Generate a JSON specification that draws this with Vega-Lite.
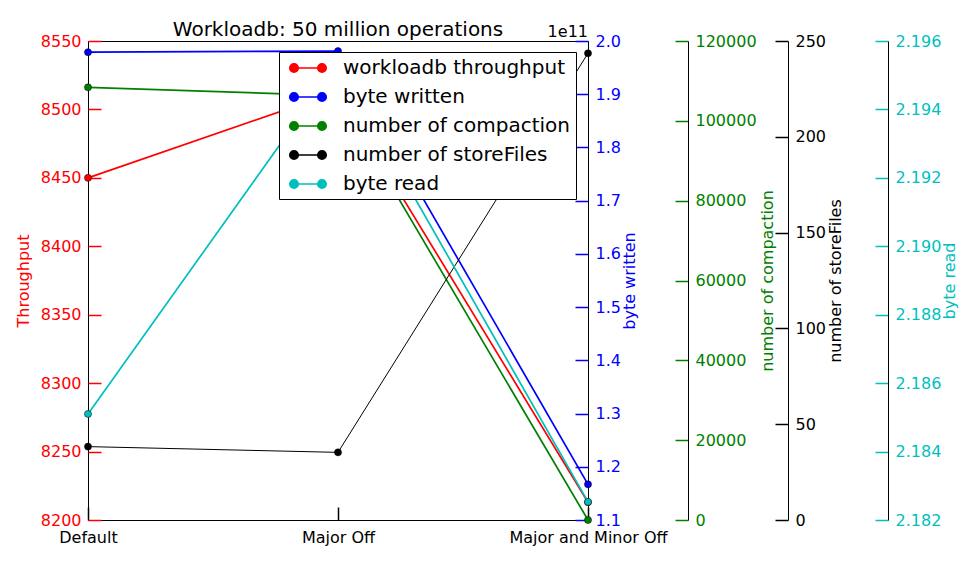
{
  "$schema": "https://vega.github.io/schema/vega-lite/v6.json",
  "width": 500,
  "height": 479,
  "autosize": {"type": "none"},
  "padding": {"left": 88, "top": 41, "right": 392, "bottom": 42},
  "background": "white",
  "config": {
    "font": "DejaVu Sans",
    "view": {"stroke": "black", "strokeWidth": 1},
    "axis": {"labelFont": "DejaVu Sans", "titleFont": "DejaVu Sans", "labelFontSize": 16, "titleFontSize": 16, "titleFontWeight": "normal", "grid": false, "tickSize": -13, "tickWidth": 1.5, "labelPadding": 20}
  },
  "title": {"text": "Workloadb: 50 million operations", "fontSize": 20, "fontWeight": "normal", "font": "DejaVu Sans", "color": "black", "anchor": "middle", "frame": "group", "offset": -16},
  "data": {"values": [
    {"scenario": "Default", "series": "workloadb throughput", "value": 8450},
    {"scenario": "Major Off", "series": "workloadb throughput", "value": 8513},
    {"scenario": "Major and Minor Off", "series": "workloadb throughput", "value": 8213},
    {"scenario": "Default", "series": "byte written", "value": 197900000000},
    {"scenario": "Major Off", "series": "byte written", "value": 198100000000},
    {"scenario": "Major and Minor Off", "series": "byte written", "value": 116700000000},
    {"scenario": "Default", "series": "number of compaction", "value": 108400},
    {"scenario": "Major Off", "series": "number of compaction", "value": 106300},
    {"scenario": "Major and Minor Off", "series": "number of compaction", "value": 0},
    {"scenario": "Default", "series": "number of storeFiles", "value": 38.3},
    {"scenario": "Major Off", "series": "number of storeFiles", "value": 35.3},
    {"scenario": "Major and Minor Off", "series": "number of storeFiles", "value": 243.6},
    {"scenario": "Default", "series": "byte read", "value": 2.1851},
    {"scenario": "Major Off", "series": "byte read", "value": 2.19535},
    {"scenario": "Major and Minor Off", "series": "byte read", "value": 2.18253}
  ]},
  "encoding": {
    "x": {"field": "scenario", "type": "ordinal", "sort": ["Default", "Major Off", "Major and Minor Off"], "scale": {"type": "point", "padding": 0}, "axis": {"title": null, "labelAngle": 0, "domain": false, "tickColor": "black", "labelColor": "black", "labelPadding": 22}},
    "color": {"field": "series", "type": "nominal", "scale": {"domain": ["workloadb throughput", "byte written", "number of compaction", "number of storeFiles", "byte read"], "range": ["#ff0000", "#0000ff", "#008000", "#000000", "#00bfbf"]},
      "legend": {"title": null, "orient": "none", "legendX": 191, "legendY": 11, "padding": 5, "strokeColor": "black", "fillColor": "white", "cornerRadius": 0, "labelFontSize": 20, "labelFont": "DejaVu Sans", "labelColor": "black", "labelOffset": 37, "labelLimit": 400, "rowPadding": 8,
        "symbolType": "M-0.1,0L2.7,0M-0.53,0A0.43,0.43 0 1,0 0.33,0A0.43,0.43 0 1,0 -0.53,0M2.27,0A0.43,0.43 0 1,0 3.13,0A0.43,0.43 0 1,0 2.27,0",
        "symbolSize": 400, "symbolStrokeWidth": 1.5,
        "encode": {"symbols": {"update": {"fill": {"scale": "color", "field": "value"}, "stroke": {"scale": "color", "field": "value"}}}}}}
  },
  "layer": [
    {
      "transform": [{"filter": "datum.series === 'workloadb throughput'"}],
      "mark": {"type": "line", "strokeWidth": 1.7, "point": {"filled": true, "size": 50, "stroke": "black", "strokeWidth": 0.5}},
      "encoding": {"y": {"field": "value", "type": "quantitative", "scale": {"domain": [8200, 8550], "nice": false, "zero": false}, "axis": {"orient": "left", "title": "Throughput", "titleColor": "red", "labelColor": "red", "tickColor": "red", "domain": false, "values": [8200, 8250, 8300, 8350, 8400, 8450, 8500, 8550], "format": "d", "titlePadding": 9}}}
    },
    {
      "transform": [{"filter": "datum.series === 'byte written'"}],
      "mark": {"type": "line", "strokeWidth": 1.7, "point": {"filled": true, "size": 50, "stroke": "black", "strokeWidth": 0.5}},
      "encoding": {"y": {"field": "value", "type": "quantitative", "scale": {"domain": [110000000000, 200000000000], "nice": false, "zero": false}, "axis": {"orient": "right", "offset": 0, "title": "byte written", "titleAngle": 270, "titleBaseline": "top", "titleColor": "blue", "labelColor": "blue", "tickColor": "blue", "domain": false, "values": [110000000000, 120000000000, 130000000000, 140000000000, 150000000000, 160000000000, 170000000000, 180000000000, 190000000000, 200000000000], "labelExpr": "format(datum.value / 1e11, '.1f')", "titlePadding": 1}}}
    },
    {
      "transform": [{"filter": "datum.series === 'number of compaction'"}],
      "mark": {"type": "line", "strokeWidth": 1.7, "point": {"filled": true, "size": 50, "stroke": "black", "strokeWidth": 0.5}},
      "encoding": {"y": {"field": "value", "type": "quantitative", "scale": {"domain": [0, 120000], "nice": false}, "axis": {"orient": "right", "offset": 100, "title": "number of compaction", "titleAngle": 270, "titleBaseline": "top", "titleColor": "green", "labelColor": "green", "tickColor": "green", "domain": true, "domainColor": "black", "values": [0, 20000, 40000, 60000, 80000, 100000, 120000], "format": "d", "titlePadding": 3}}}
    },
    {
      "transform": [{"filter": "datum.series === 'number of storeFiles'"}],
      "mark": {"type": "line", "strokeWidth": 1, "point": {"filled": true, "size": 50, "stroke": "black", "strokeWidth": 0.5}},
      "encoding": {"y": {"field": "value", "type": "quantitative", "scale": {"domain": [0, 250], "nice": false}, "axis": {"orient": "right", "offset": 200, "title": "number of storeFiles", "titleAngle": 270, "titleBaseline": "top", "titleColor": "black", "labelColor": "black", "tickColor": "black", "domain": true, "domainColor": "black", "values": [0, 50, 100, 150, 200, 250], "format": "d", "titlePadding": 2}}}
    },
    {
      "transform": [{"filter": "datum.series === 'byte read'"}],
      "mark": {"type": "line", "strokeWidth": 1.7, "point": {"filled": true, "size": 50, "stroke": "black", "strokeWidth": 0.5}},
      "encoding": {"y": {"field": "value", "type": "quantitative", "scale": {"domain": [2.182, 2.196], "nice": false, "zero": false}, "axis": {"orient": "right", "offset": 300, "title": "byte read", "titleAngle": 270, "titleBaseline": "top", "titleColor": "#00bfbf", "labelColor": "#00bfbf", "tickColor": "#00bfbf", "domain": true, "domainColor": "black", "values": [2.182, 2.184, 2.186, 2.188, 2.19, 2.192, 2.194, 2.196], "format": ".3f", "titlePadding": 1}}}
    },
    {
      "data": {"values": [{"note": "1e11"}]},
      "mark": {"type": "text", "align": "right", "baseline": "bottom", "fontSize": 16, "fontWeight": "normal", "font": "DejaVu Sans", "dy": -1},
      "encoding": {"x": {"datum": "Major and Minor Off"}, "y": {"datum": 200000000000, "type": "quantitative", "scale": {"domain": [110000000000, 200000000000], "nice": false, "zero": false}, "axis": null}, "text": {"field": "note", "type": "nominal"}, "color": {"value": "black"}}
    }
  ],
  "resolve": {"scale": {"y": "independent"}, "axis": {"y": "independent"}}
}
